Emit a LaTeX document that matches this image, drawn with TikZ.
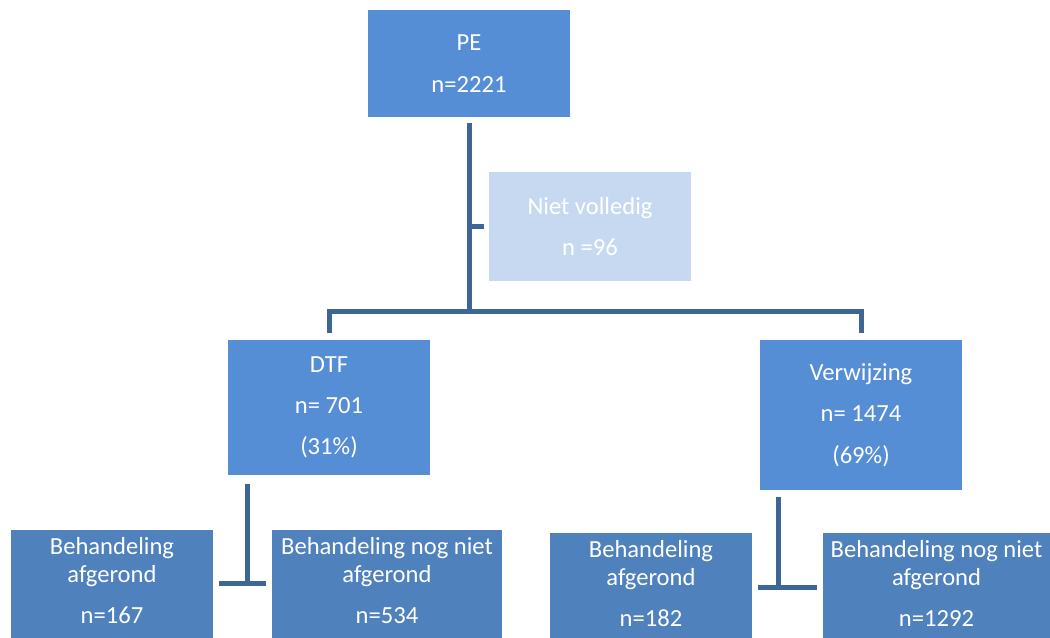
\documentclass[tikz,border=0pt]{standalone}
\usepackage{fontspec}
\setmainfont{Carlito}
\usetikzlibrary{calc}
\definecolor{midblue}{HTML}{558ED5}
\definecolor{darkblue}{HTML}{4F81BD}
\definecolor{lightblue}{HTML}{C6D9F1}
\definecolor{linecol}{HTML}{3D6596}
\tikzset{
  box/.style={fill=midblue, draw=none, inner sep=0, minimum width=4.04cm, text=white, align=center,
    font=\fontsize{14}{16}\selectfont},
  lightbox/.style={box, fill=lightblue},
  lowbox/.style={fill=darkblue, draw=none, inner sep=0, minimum width=4.04cm, minimum height=3cm, anchor=north},
  lowtext/.style={text=white, align=center, inner sep=0, anchor=north, font=\fontsize{14}{16}\selectfont},
  conn/.style={draw=linecol, line width=0.1cm}
}
\begin{document}
\begin{tikzpicture}[x=0.02cm,y=-0.02cm]
\useasboundingbox (0,0) rectangle (1050,637);
\clip (0,0) rectangle (1050,637);
\fill[white] (0,0) rectangle (1050,637);
% top boxes
\node[box, minimum height=2.14cm] (pe) at (469,63.5) {PE\\[7.5pt]n=2221};
\node[lightbox, minimum height=2.18cm] (niet) at (590,226.5) {Niet volledig\\[7.5pt]n =96};
\node[box, minimum height=2.7cm] (dtf) at (329,407.5) {DTF\\[7.5pt]n= 701\\[7.5pt](31\%)};
\node[box, minimum height=3.0cm] (verw) at (861,415) {Verwijzing\\[7.5pt]n= 1474\\[7.5pt](69\%)};
% bottom boxes
\node[lowbox] (b1) at (112,530) {};
\node[lowbox, minimum width=4.6cm] (b2) at (387,530) {};
\node[lowbox] (b3) at (651,533) {};
\node[lowbox, minimum width=4.54cm] (b4) at (936.5,533) {};
\node[lowtext] (b1t) at ($(b1.north)+(0,7)$) {Behandeling\\afgerond\\[7.5pt]n=167};
\node[lowtext] (b2t) at ($(b2.north)+(0,7)$) {Behandeling nog niet\\afgerond\\[7.5pt]n=534};
\node[lowtext] (b3t) at ($(b3.north)+(0,7)$) {Behandeling\\afgerond\\[7.5pt]n=182};
\node[lowtext] (b4t) at ($(b4.north)+(0,7)$) {Behandeling nog niet\\afgerond\\[7.5pt]n=1292};
% junction coordinates
\coordinate (hub) at (469,311);
\coordinate (lj) at (247,583);
\coordinate (rj) at (778,587);
% connectors
\draw[conn] ($(pe.south)+(0,6)$) -- (hub);
\draw[conn] (hub |- niet.west) -- ($(niet.west)+(-5,0)$);
\draw[conn] ($(dtf.north)+(0,-7)$) |- (hub) -| ($(verw.north)+(0,-7)$);
\draw[conn] ($(lj |- dtf.south)+(0,9)$) -- (lj);
\draw[conn] ($(b1.east |- lj)+(6,0)$) -- ($(b2.west |- lj)+(-6,0)$);
\draw[conn] ($(rj |- verw.south)+(0,7)$) -- (rj);
\draw[conn] ($(b3.east |- rj)+(6,0)$) -- ($(b4.west |- rj)+(-6,0)$);
\end{tikzpicture}
\end{document}
